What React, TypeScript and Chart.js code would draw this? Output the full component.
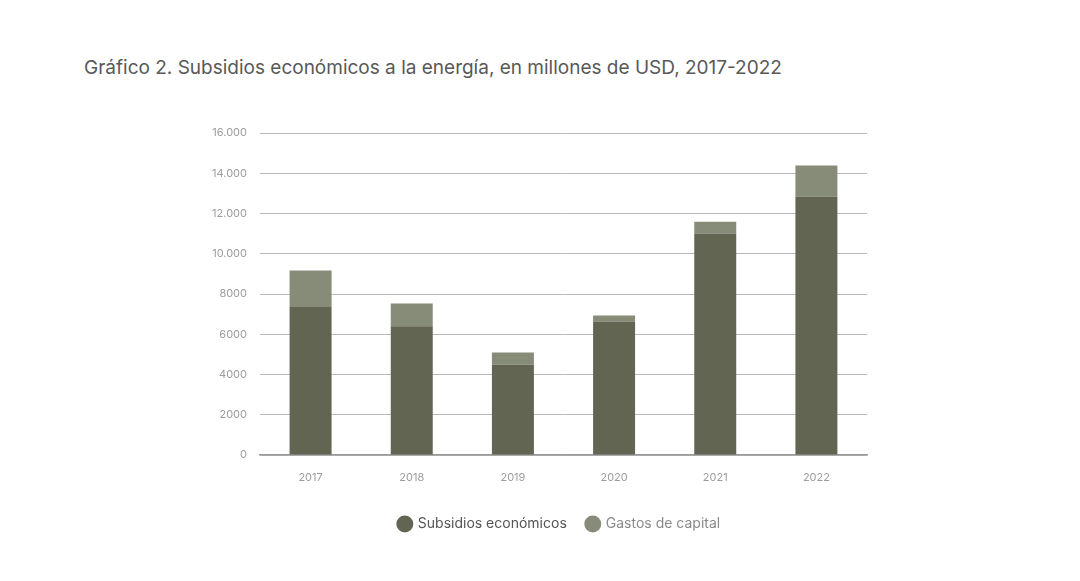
import { Chart, registerables } from 'chart.js';
import type { Plugin } from 'chart.js';
import { useEffect, useRef } from 'react';

Chart.register(...registerables);

const years = ['2017', '2018', '2019', '2020', '2021', '2022'];
const subsidios = [7360, 6400, 4490, 6630, 11010, 12840];
const gastosCapital = [1810, 1130, 600, 300, 580, 1550];
const yTickLabels = ['0', '2000', '4000', '6000', '8000', '10.000', '12.000', '14.000', '16.000'];

const darkColor = '#636553';
const lightColor = '#868c78';
const tickColor = '#9c9c9c';
const fontFamily = 'Inter, "Noto Sans", sans-serif';

const padLeft = 180;
const padRight = 213;
const yAxisWidth = 80;

// the legend in the original is centred under the bars, not on the whole canvas
const legendShift: Plugin<'bar'> = {
	id: 'legendShift',
	afterLayout(chart) {
		const legend = chart.legend;
		if (!legend) return;
		const target = (chart.chartArea.left + chart.chartArea.right) / 2 - 4;
		const dx = target - (legend.left + legend.right) / 2;
		legend.left += dx;
		legend.right += dx;
	},
};

export default function App() {
	const canvasRef = useRef<HTMLCanvasElement | null>(null);
	const chartRef = useRef<Chart | null>(null);

	useEffect(() => {
		if (!canvasRef.current) return;
		if (chartRef.current) chartRef.current.destroy();

		const ctx = canvasRef.current.getContext('2d');
		if (!ctx) return;

		chartRef.current = new Chart(ctx, {
			type: 'bar',
			data: {
				labels: years,
				datasets: [
					{
						label: 'Subsidios económicos',
						data: subsidios,
						backgroundColor: darkColor,
						barPercentage: 0.415,
						categoryPercentage: 1,
					},
					{
						label: 'Gastos de capital',
						data: gastosCapital,
						backgroundColor: lightColor,
						barPercentage: 0.415,
						categoryPercentage: 1,
					},
				],
			},
			options: {
				animation: false,
				responsive: true,
				maintainAspectRatio: false,
				layout: {
					padding: { left: padLeft, right: padRight, top: 133, bottom: 40 },
				},
				scales: {
					x: {
						stacked: true,
						grid: { display: false, drawTicks: false },
						border: { display: true, color: '#9a9a9a', width: 1.5 },
						ticks: {
							color: tickColor,
							padding: 16,
							font: { family: fontFamily, size: 11 },
						},
						afterFit: (scale) => {
							scale.height = 42;
						},
					},
					y: {
						stacked: true,
						min: 0,
						max: 16000,
						grid: { color: '#b8b8b8', lineWidth: 1, drawTicks: false },
						border: { display: false },
						ticks: {
							stepSize: 2000,
							color: tickColor,
							padding: 13,
							font: { family: fontFamily, size: 11 },
							callback: (_value, index) => yTickLabels[index],
						},
						afterFit: (scale) => {
							scale.width = yAxisWidth;
						},
					},
				},
				plugins: {
					legend: {
						position: 'bottom',
						labels: {
							usePointStyle: true,
							pointStyle: 'circle',
							boxWidth: 12,
							boxHeight: 12,
							padding: 20,
							font: { family: fontFamily, size: 14 },
							generateLabels: (chart) =>
								Chart.defaults.plugins.legend.labels
									.generateLabels(chart)
									.map((item, i) => ({
										...item,
										fontColor: i === 0 ? '#555555' : '#8a8a8a',
									})),
						},
					},
					tooltip: { enabled: false },
				},
			},
			plugins: [legendShift],
		});

		return () => {
			if (chartRef.current) {
				chartRef.current.destroy();
				chartRef.current = null;
			}
		};
	}, []);

	return (
		<div
			style={{
				position: 'absolute',
				left: 0,
				top: 0,
				width: '1080px',
				height: '581px',
				background: '#ffffff',
			}}>
			<div
				style={{
					position: 'absolute',
					left: '84px',
					top: '57px',
					fontFamily,
					fontSize: '19px',
					lineHeight: '22px',
					color: '#585858',
					whiteSpace: 'nowrap',
				}}>
				Gráfico 2. Subsidios económicos a la energía, en millones de USD, 2017-2022
			</div>
			<div style={{ position: 'absolute', left: 0, top: 0, width: '1080px', height: '581px' }}>
				<canvas ref={canvasRef}></canvas>
			</div>
		</div>
	);
}
